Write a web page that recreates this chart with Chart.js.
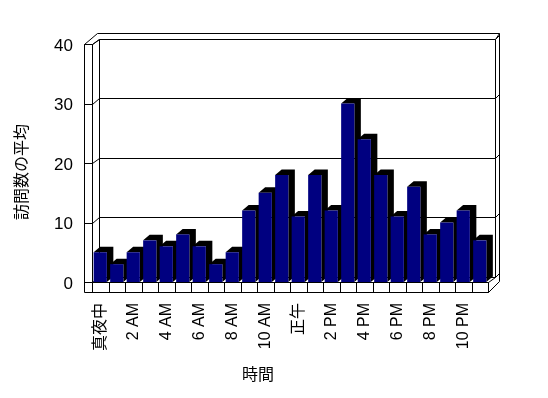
<!DOCTYPE html>
<html>
<head>
<meta charset="utf-8">
<script src="https://cdn.jsdelivr.net/npm/chart.js@4"></script>
<style>
html,body{margin:0;padding:0;background:#fff;}
#wrap{width:548px;height:398px;position:relative;}
</style>
</head>
<body>
<div id="wrap"><canvas id="c" width="548" height="398"></canvas></div>
<script>
// ---- data ----
const hours = ['真夜中','1 AM','2 AM','3 AM','4 AM','5 AM','6 AM','7 AM','8 AM','9 AM','10 AM','11 AM',
               '正午','1 PM','2 PM','3 PM','4 PM','5 PM','6 PM','7 PM','8 PM','9 PM','10 PM','11 PM'];
const visits = [5, 3, 5, 7, 6, 8, 6, 3, 5, 12, 15, 18, 11, 18, 12, 30, 24, 18, 11, 16, 8, 10, 12, 7];
const yTicks = [0, 10, 20, 30, 40];
const xTitle = '時間';
const yTitle = '訪問数の平均';

const FONT = "'Liberation Sans', Arial, 'Noto Sans CJK JP', sans-serif";
const DX = 6.5, DY = -5.5;

function px(v){ return Math.round(v) + 0.5; }

const frame3d = {
  id: 'frame3d',
  beforeDatasetsDraw(chart) {
    const ctx = chart.ctx;
    const a = chart.chartArea;
    const y = chart.scales.y, x = chart.scales.x;
    const L = a.left, R = a.right, B = a.bottom, T = y.getPixelForValue(40);
    const OL = L - 8.5;         // outer face of left wall
    const FB = B + 10;          // floor front face bottom
    ctx.save();
    ctx.strokeStyle = '#000';
    ctx.lineWidth = 1;
    ctx.beginPath();
    // left wall
    ctx.moveTo(px(OL), px(T)); ctx.lineTo(px(OL), px(FB));
    ctx.moveTo(px(L), px(T)); ctx.lineTo(px(L), px(B));
    ctx.moveTo(px(OL), px(T)); ctx.lineTo(px(L), px(T));
    ctx.moveTo(px(OL), px(T)); ctx.lineTo(px(OL + 2*DX), px(T + 2*DY));
    ctx.moveTo(px(L), px(T)); ctx.lineTo(px(L + DX), px(T + DY));
    // back wall inner face
    ctx.moveTo(px(L + DX), px(T + DY)); ctx.lineTo(px(L + DX), px(B + DY));
    ctx.moveTo(px(R + DX), px(T + DY)); ctx.lineTo(px(R + DX), px(B + DY));
    // back wall top (back edge) and right outer edge
    ctx.moveTo(px(OL + 2*DX), px(T + 2*DY)); ctx.lineTo(px(R + DX + 4), px(T + 2*DY));
    ctx.lineTo(px(R + DX + 4), px(B + DY + 4));
    ctx.moveTo(px(R + DX), px(T + DY)); ctx.lineTo(px(R + DX + 4), px(T + 2*DY));
    // floor
    ctx.moveTo(px(L), px(B)); ctx.lineTo(px(R), px(B));
    ctx.moveTo(px(OL), px(FB)); ctx.lineTo(px(R), px(FB));
    ctx.moveTo(px(R), px(B)); ctx.lineTo(px(R), px(FB));
    ctx.moveTo(px(R), px(B)); ctx.lineTo(px(R + DX), px(B + DY));
    ctx.moveTo(px(R), px(FB)); ctx.lineTo(px(R + DX + 4), px(B + DY + 4));
    // floor strip separators at category boundaries
    const n = hours.length;
    for (let i = 0; i <= n; i++) {
      const xb = i < n ? x.getPixelForValue(i) - (x.getPixelForValue(1) - x.getPixelForValue(0)) / 2 : R;
      ctx.moveTo(px(xb), px(B)); ctx.lineTo(px(xb), px(FB));
    }
    // gridlines with side ticks
    yTicks.forEach(v => {
      const yy = y.getPixelForValue(v);
      ctx.moveTo(px(OL), px(yy)); ctx.lineTo(px(L), px(yy));
      ctx.lineTo(px(L + DX), px(yy + DY));
      ctx.lineTo(px(R + DX), px(yy + DY));
      ctx.lineTo(px(R + DX + 4), px(yy + DY - 4));
    });
    ctx.stroke();

    // 3D side and top faces of bars
    const meta = chart.getDatasetMeta(0);
    ctx.fillStyle = '#000';
    meta.data.forEach(bar => {
      const p = bar.getProps(['x','y','base','width'], true);
      const l = p.x - p.width / 2, r = p.x + p.width / 2, t = p.y, b = p.base;
      ctx.beginPath();
      ctx.moveTo(l, t);
      ctx.lineTo(l + DX, t + DY);
      ctx.lineTo(r + DX, t + DY);
      ctx.lineTo(r + DX, b + DY);
      ctx.lineTo(r, b);
      ctx.lineTo(r, t);
      ctx.closePath();
      ctx.fill();
    });
    ctx.restore();
  },
  afterDraw(chart) {
    const ctx = chart.ctx;
    ctx.save();
    ctx.fillStyle = '#000';
    ctx.font = '16px ' + FONT;
    ctx.textAlign = 'center';
    ctx.textBaseline = 'middle';
    ctx.fillText(xTitle, 258, 376);
    ctx.translate(23, 172);
    ctx.rotate(-Math.PI / 2);
    ctx.fillText(yTitle, 0, 0);
    ctx.restore();
  }
};

new Chart(document.getElementById('c'), {
  type: 'bar',
  data: {
    labels: hours,
    datasets: [{
      data: visits,
      backgroundColor: '#000080',
      borderWidth: 0,
      barPercentage: 0.8,
      categoryPercentage: 1.0
    }]
  },
  options: {
    responsive: false,
    animation: false,
    events: [],
    layout: { padding: { top: 44, right: 60, bottom: 0, left: 0 } },
    plugins: { legend: { display: false }, tooltip: { enabled: false } },
    scales: {
      x: {
        grid: { display: false, drawTicks: false },
        border: { display: false },
        ticks: {
          autoSkip: false,
          minRotation: 90,
          maxRotation: 90,
          padding: 21,
          color: '#000',
          font: { family: FONT, size: 16 },
          callback: function(v, i) { return i % 2 === 0 ? hours[i] : ''; }
        },
        afterFit(s) { s.height = 116; }
      },
      y: {
        min: 0, max: 40,
        grid: { display: false, drawTicks: false },
        border: { display: false },
        ticks: {
          stepSize: 10,
          padding: 19,
          labelOffset: 2,
          color: '#000',
          font: { family: FONT, size: 17 }
        },
        afterFit(s) { s.width = 92; }
      }
    }
  },
  plugins: [frame3d]
});
</script>
</body>
</html>
